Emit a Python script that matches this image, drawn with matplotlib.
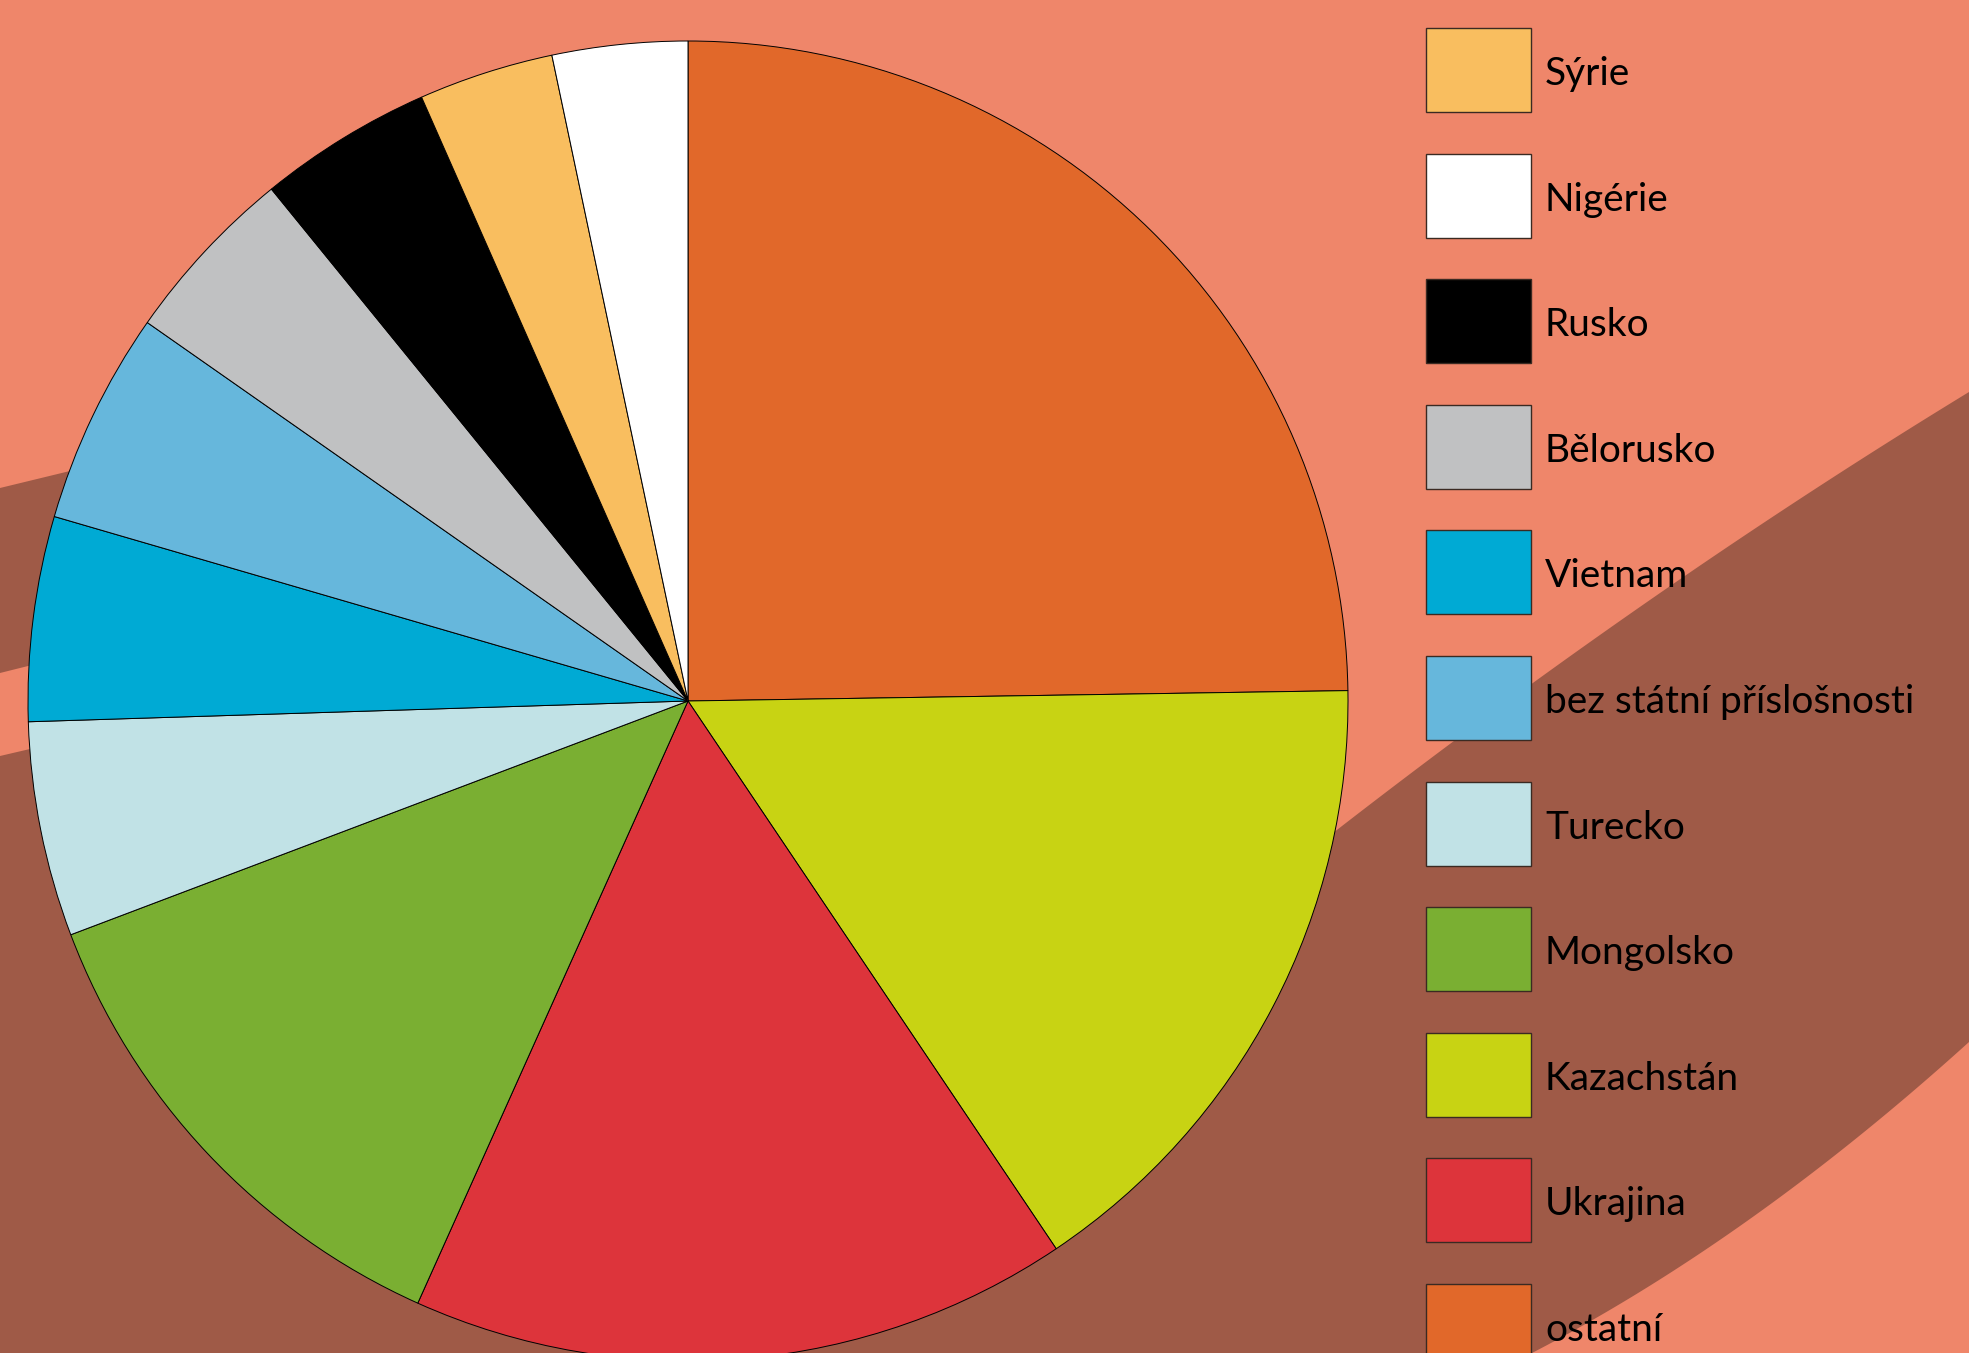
import matplotlib
matplotlib.use("Agg")
import matplotlib.pyplot as plt
import numpy as np
from matplotlib.patches import Polygon, Rectangle

# shares in %, clockwise from 12 o'clock as they sit in the pie
pie_labels = ["ostatní", "Kazachstán", "Ukrajina", "Mongolsko", "Turecko", "Vietnam",
              "bez státní příslošnosti", "Bělorusko", "Rusko", "Sýrie", "Nigérie"]
pie_values = [24.7, 15.8, 16.1, 12.5, 5.25, 5.0, 5.2, 4.4, 4.25, 3.3, 3.3]
pie_colors = ["#E1682A", "#C8D313", "#DD343B", "#7AAF32", "#C1E2E6", "#00AAD4",
              "#66B7DC", "#C0C1C2", "#000000", "#F9BE5F", "#FFFFFF"]

# legend order (top to bottom)
legend_labels = ["Sýrie", "Nigérie", "Rusko", "Bělorusko", "Vietnam", "bez státní příslošnosti",
                 "Turecko", "Mongolsko", "Kazachstán", "Ukrajina", "ostatní"]

SALMON = "#EF866A"
BROWN = "#9F5A47"

W, H = 1969, 1353
fig = plt.figure(figsize=(W / 100, H / 100), dpi=100, facecolor=SALMON)


def bezier(p0, c, p2, n=60):
    # quadratic curve for the background swoosh edges
    t = np.linspace(0, 1, n)[:, None]
    p0, c, p2 = map(np.asarray, (p0, c, p2))
    return list(map(tuple, (1 - t) ** 2 * p0 + 2 * (1 - t) * t * c + t ** 2 * p2))


# background decoration, in pixel coordinates
bg = fig.add_axes([0, 0, 1, 1])
bg.set_xlim(0, W)
bg.set_ylim(H, 0)
bg.axis("off")
bg.set_facecolor(SALMON)

band_upper = [(0, 488), (70, 471), (420, 390), (430, 560), (28, 666), (0, 673)]
upper_edge = bezier((1333, 833), (1651, 586), (1969, 392))
lower_edge = bezier((1969, 1042), (1750, 1240), (1532, 1353))
band_lower = ([(0, 756), (30, 749), (500, 700), (1000, 800)] + upper_edge
              + lower_edge + [(0, 1353)])
bg.add_patch(Polygon(band_upper, closed=True, facecolor=BROWN, edgecolor="none"))
bg.add_patch(Polygon(band_lower, closed=True, facecolor=BROWN, edgecolor="none"))

# pie
cx, cy, r = 688, 701, 660
pad = 10
ax = fig.add_axes([(cx - r - pad) / W, (H - cy - r - pad) / H,
                   2 * (r + pad) / W, 2 * (r + pad) / H])
lim = (r + pad) / r
ax.pie(pie_values, colors=pie_colors, startangle=90, counterclock=False,
       wedgeprops=dict(edgecolor="black", linewidth=0.7))
ax.set_xlim(-lim, lim)
ax.set_ylim(-lim, lim)
ax.set_aspect("equal")
ax.axis("off")

# legend drawn by hand
color_of = dict(zip(pie_labels, pie_colors))
box_x, box_w, box_h = 1426, 105, 84
top0, step = 28, 125.6
for i, lab in enumerate(legend_labels):
    top = top0 + i * step
    bg.add_patch(Rectangle((box_x, top), box_w, box_h, facecolor=color_of[lab],
                           edgecolor="#3a2a22", linewidth=1.0))
    bg.text(1545, top + 57, lab, fontsize=28, family="Lato", color="black",
            va="baseline", ha="left")

fig.savefig("out.png", dpi=100, facecolor=SALMON)
